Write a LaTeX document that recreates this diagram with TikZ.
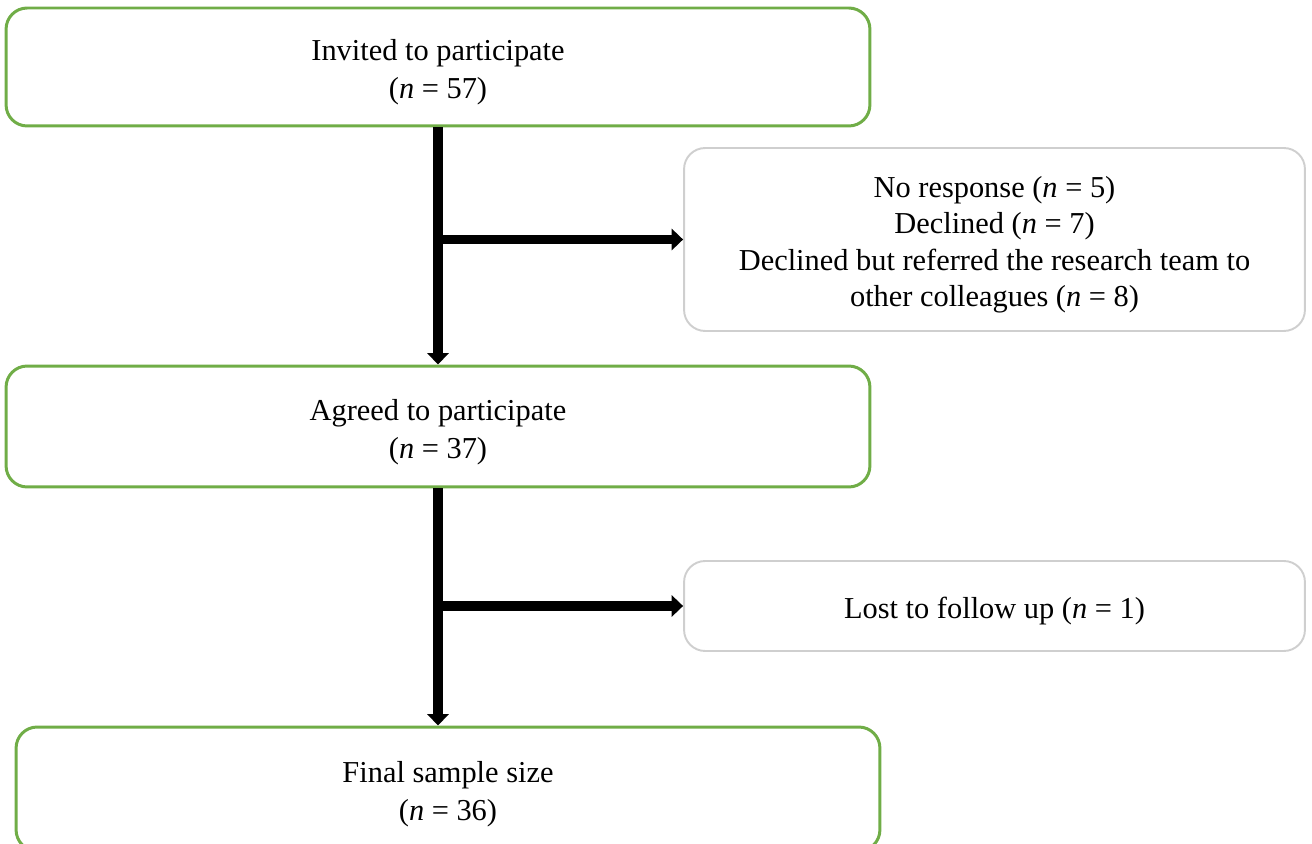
\documentclass[tikz,border=0pt]{standalone}
\usepackage{fontspec}
\setmainfont{Liberation Serif}
\usetikzlibrary{arrows.meta}
\definecolor{boxgreen}{HTML}{70AD47}
\definecolor{boxgray}{HTML}{CFCFCF}
% lines of a box, set a little below the middle
\newcommand{\boxlines}[1]{\raisebox{-3pt}[\height][\depth]{\begin{tabular}{@{}c@{}}#1\end{tabular}}}
\begin{document}
\begin{tikzpicture}[x=0.02cm, y=-0.02cm,
    flowbox/.style={draw=boxgreen, line width=1.7pt, rounded corners=12pt,
      minimum width=17.28cm, font=\fontsize{17.3}{21.5}\selectfont},
    sidebox/.style={draw=boxgray, line width=1.1pt, rounded corners=12pt,
      minimum width=12.42cm, font=\fontsize{17.3}{20.6}\selectfont},
    arrowline/.style={line width=5.3pt, -{Triangle[width=12pt,length=6.5pt]}}]

      \useasboundingbox (0,0) rectangle (1312,844);

      % boxes
      \node[flowbox, minimum height=2.36cm] (invited) at (438,67)
        {\boxlines{Invited to participate\\(\textit{n} = 57)}};
      \node[sidebox, minimum height=3.66cm] (excluded) at (994.5,239.5)
        {\boxlines{No response (\textit{n} = 5)\\Declined (\textit{n} = 7)\\Declined but referred the research team to\\other colleagues (\textit{n} = 8)}};
      \node[flowbox, minimum height=2.42cm] (agreed) at (438,426.5)
        {\boxlines{Agreed to participate\\(\textit{n} = 37)}};
      \node[sidebox, minimum height=1.8cm] (lost) at (994.5,606)
        {\boxlines{Lost to follow up (\textit{n} = 1)}};
      \node[flowbox, minimum height=2.48cm] (final) at (448,789)
        {\boxlines{Final sample size\\(\textit{n} = 36)}};

      % arrows
      \draw[arrowline] (invited.south) -- (agreed.north);
      \draw[arrowline] (invited.south |- excluded.west) -- (excluded.west);
      \draw[arrowline] (agreed.south) -- (agreed.south |- final.north);
      \draw[arrowline] (agreed.south |- lost.west) -- (lost.west);
    \end{tikzpicture}
\end{document}
